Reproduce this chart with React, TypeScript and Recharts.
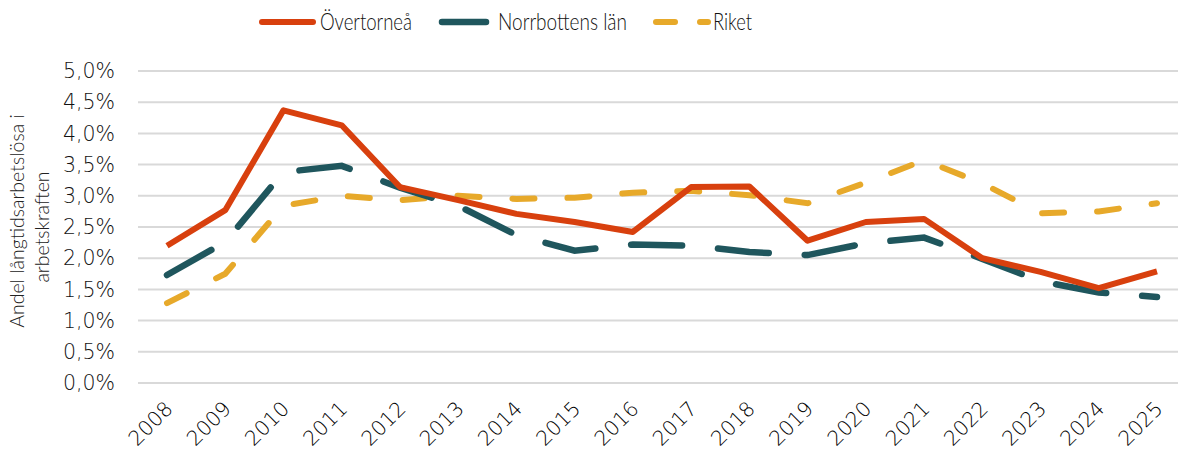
import React from 'react';
import { LineChart, Line, XAxis, YAxis, CartesianGrid, Legend } from 'recharts';

const years = ['2008', '2009', '2010', '2011', '2012', '2013', '2014', '2015', '2016', '2017', '2018', '2019', '2020', '2021', '2022', '2023', '2024', '2025'];
const overtornea = [2.2, 2.77, 4.37, 4.13, 3.14, 2.93, 2.71, 2.58, 2.42, 3.14, 3.15, 2.28, 2.58, 2.63, 2.0, 1.78, 1.52, 1.79];
const norrbotten = [1.73, 2.26, 3.38, 3.48, 3.13, 2.84, 2.37, 2.12, 2.22, 2.2, 2.1, 2.05, 2.24, 2.33, 1.99, 1.63, 1.45, 1.38];
const riket = [1.28, 1.75, 2.84, 3.0, 2.93, 3.0, 2.95, 2.97, 3.05, 3.08, 3.01, 2.88, 3.21, 3.57, 3.2, 2.72, 2.75, 2.88];
const yTicks = [0, 0.5, 1, 1.5, 2, 2.5, 3, 3.5, 4, 4.5, 5];
const seriesNames = ['Övertorneå', 'Norrbottens län', 'Riket'];
const titleLines = ['Andel långtidsarbetslösa i', 'arbetskraften'];

const data = years.map((y, i) => ({
  year: y,
  overtornea: overtornea[i],
  norrbotten: norrbotten[i],
  riket: riket[i],
}));

const C_OR = '#D8400E';
const C_TE = '#1F565D';
const C_YE = '#E7A92A';
const FONT = '"DejaVu Sans", sans-serif';
const LFONT = 'Lato, "Open Sans", sans-serif';
const TXT = '#111111';

const fmt = (v: number) => v.toFixed(1).replace('.', ',') + '%';

const XTick = (props: any) => {
  const { x, y, payload } = props;
  const ax = x + 7;
  const ay = y + 19;
  return (
    <text x={ax} y={ay} transform={`rotate(-45 ${ax} ${ay})`} textAnchor="end" fontFamily={FONT} fontWeight={200} fontSize={20.5} fill="#000">
      {payload.value}
    </text>
  );
};

const YTitle = (props: any) => {
  const vb = props.viewBox || {};
  const cy = (vb.y ?? 71) + (vb.height ?? 312) / 2;
  return (
    <g>
      <text x={24} y={cy - 6} transform={`rotate(-90 24 ${cy - 6})`} textAnchor="middle" fontFamily={LFONT} fontWeight={300} fontSize={19.5} fill="#222">
        {titleLines[0]}
      </text>
      <text x={49} y={cy} transform={`rotate(-90 49 ${cy})`} textAnchor="middle" fontFamily={LFONT} fontWeight={300} fontSize={19.5} fill="#222">
        {titleLines[1]}
      </text>
    </g>
  );
};

const LegendContent = () => (
  <div style={{ position: 'relative', height: 44, width: 1178 }}>
    <svg width={1178} height={44} style={{ position: 'absolute', left: 0, top: 0 }}>
      <line x1={262} y1={22} x2={313} y2={22} stroke={C_OR} strokeWidth={6} strokeLinecap="round" />
      <line x1={442} y1={22} x2={486} y2={22} stroke={C_TE} strokeWidth={6.5} strokeLinecap="round" />
      <line x1={656} y1={22} x2={675} y2={22} stroke={C_YE} strokeWidth={6} strokeLinecap="round" />
      <line x1={700} y1={22} x2={708} y2={22} stroke={C_YE} strokeWidth={6} strokeLinecap="round" />
      <text x={320} y={30} fontSize={23} fill="#111" fontFamily={LFONT} fontWeight={300} textLength={92} lengthAdjust="spacingAndGlyphs">{seriesNames[0]}</text>
      <text x={498} y={30} fontSize={23} fill="#111" fontFamily={LFONT} fontWeight={300} textLength={129} lengthAdjust="spacingAndGlyphs">{seriesNames[1]}</text>
      <text x={713} y={30} fontSize={23} fill="#111" fontFamily={LFONT} fontWeight={300} textLength={39} lengthAdjust="spacingAndGlyphs">{seriesNames[2]}</text>
    </svg>
  </div>
);

export default function App() {
  return (
    <div style={{ position: 'absolute', left: 0, top: 0, width: 1178, height: 450, overflow: 'hidden', background: '#fff' }}>
      <LineChart width={1200} height={450} data={data} margin={{ top: 27, right: 14, bottom: 0, left: 0 }}>
        <Legend verticalAlign="top" align="left" content={<LegendContent />} wrapperStyle={{ top: 0, left: 0, height: 44 }} />
        <CartesianGrid horizontal vertical={false} stroke="#D9D9D9" strokeWidth={2} />
        <XAxis dataKey="year" height={67} padding={{ left: 29, right: 29 }} tick={<XTick />} tickLine={false} axisLine={false} interval={0} />
        <YAxis
          width={138}
          domain={[0, 5]}
          ticks={yTicks}
          tickFormatter={fmt}
          axisLine={false}
          tickLine={false}
          tickMargin={17}
          tick={{ fontFamily: FONT, fontWeight: 200, fontSize: 20.5, fill: TXT }}
          label={{ content: <YTitle /> }}
        />
        <Line type="linear" dataKey="riket" stroke={C_YE} strokeWidth={6} strokeDasharray="22 33" strokeLinecap="round" dot={false} isAnimationActive={false} />
        <Line type="linear" dataKey="norrbotten" stroke={C_TE} strokeWidth={6.5} strokeDasharray="51 36" strokeLinecap="round" dot={false} isAnimationActive={false} />
        <Line type="linear" dataKey="overtornea" stroke={C_OR} strokeWidth={6} strokeLinejoin="round" dot={false} isAnimationActive={false} />
      </LineChart>
    </div>
  );
}
